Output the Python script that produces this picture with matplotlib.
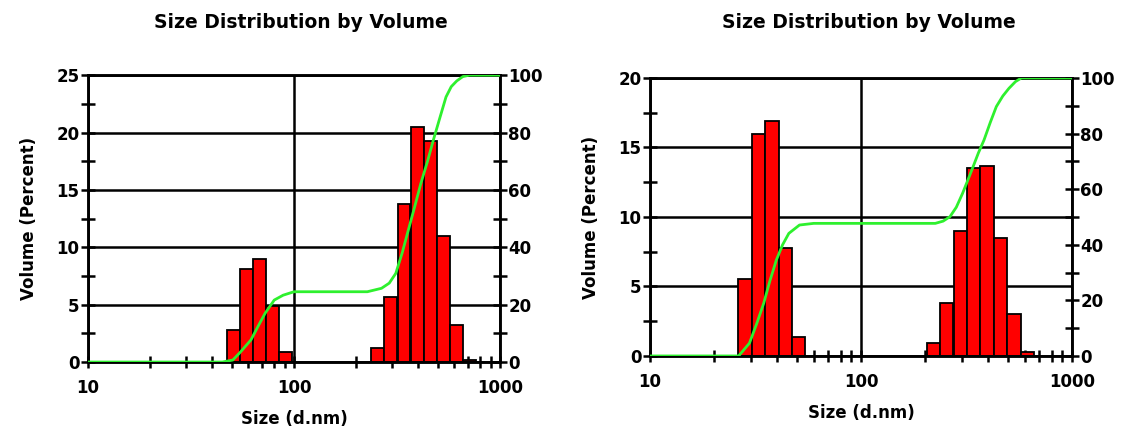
import matplotlib
matplotlib.use("Agg")
import matplotlib.pyplot as plt
from matplotlib.ticker import MultipleLocator, LogLocator, NullFormatter, FixedLocator, FuncFormatter

# Zetasizer size classes (d.nm) and volume % per class
LEFT_SIZES = [50.75, 58.77, 68.06, 78.82, 91.28,
              255.0, 295.3, 342.0, 396.1, 458.7, 531.2, 615.1, 712.4]
LEFT_VOLUME = [2.8, 8.1, 9.0, 4.9, 0.9,
               1.2, 5.7, 13.8, 20.5, 19.3, 11.0, 3.2, 0.15]

RIGHT_SIZES = [28.21, 32.67, 37.84, 43.82, 50.75,
               220.2, 255.0, 295.3, 342.0, 396.1, 458.7, 531.2, 615.1]
RIGHT_VOLUME = [5.55, 16.0, 16.9, 7.8, 1.35,
                0.9, 3.8, 9.0, 13.5, 13.7, 8.5, 3.0, 0.3]

# cumulative (undersize %) curve
LEFT_CUM_X = [10, 44.9, 50.5, 55, 61.8, 67, 72.4, 80.2, 88.6, 100,
              227, 266, 290, 312, 335, 359, 385, 413, 445, 475, 510, 547, 580, 617, 660, 710, 1000]
LEFT_CUM_Y = [0, 0, 0.7, 3.5, 7.7, 12.5, 17, 21.6, 23.3, 24.5,
              24.5, 25.7, 27.5, 30.9, 38, 46, 54, 62.3, 70, 77.4, 85, 92.4, 96, 98, 99.5, 100, 100]

RIGHT_CUM_X = [10, 26.3, 29.6, 32, 34.6, 37, 39.7, 42.5, 45.5, 51.1, 59.7,
               225, 245, 264, 283, 303, 320, 340, 360, 383, 410, 438, 470, 503, 540, 576, 1000]
RIGHT_CUM_Y = [0, 0, 4.6, 11.5, 19, 27, 34.5, 40, 44.1, 47.1, 47.7,
               47.7, 48.5, 50.1, 53.5, 58.5, 63, 68.1, 73, 77.7, 84, 89.7, 93.5, 96.3, 98.7, 100, 100]

TITLE = "Size Distribution by Volume"
BAR_HALF = 10 ** 0.0314   # half a size class in log space
GREEN = "#2ef02e"
LW = 1.8
FS = 12

plt.rcParams["font.family"] = ["DejaVu Sans"]
plt.rcParams["font.weight"] = "bold"
plt.rcParams["axes.labelweight"] = "bold"


def panel(rect, sizes, vols, cx, cy, ymax, title_xy):
    ax = fig.add_axes(rect)
    lefts = [s / BAR_HALF for s in sizes]
    widths = [s * BAR_HALF - s / BAR_HALF for s in sizes]
    ax.bar(lefts, vols, width=widths, align="edge", color="#ff0000",
           edgecolor="black", linewidth=1.3, zorder=2)
    ax.set_xscale("log")
    ax.set_xlim(10, 1000)
    ax.set_ylim(0, ymax)
    ax.xaxis.set_major_locator(FixedLocator([10, 100, 1000]))
    ax.xaxis.set_major_formatter(FuncFormatter(lambda v, p: "%d" % v))
    ax.xaxis.set_minor_locator(LogLocator(base=10, subs=range(2, 10)))
    ax.xaxis.set_minor_formatter(NullFormatter())
    ax.yaxis.set_major_locator(MultipleLocator(5))
    ax.yaxis.set_minor_locator(MultipleLocator(2.5))
    ax.grid(True, which="major", color="black", linewidth=LW, zorder=1)
    ax.set_axisbelow(True)
    for sp in ax.spines.values():
        sp.set_linewidth(LW)
    ax.tick_params(axis="both", which="both", direction="inout", width=LW,
                   labelsize=FS)
    ax.tick_params(axis="y", which="both", length=10, pad=1)
    ax.tick_params(axis="x", which="both", length=9, pad=8)
    ax.set_xlabel("Size (d.nm)", fontsize=FS, labelpad=9)
    ax.set_ylabel("Volume (Percent)", fontsize=FS, labelpad=13)
    fig.text(title_xy[0], title_xy[1], TITLE, fontsize=13.5, ha="center", va="center")

    ax2 = ax.twinx()
    ax2.plot(cx, cy, color=GREEN, linewidth=2.0, zorder=3)
    ax2.set_ylim(0, 100)
    ax2.yaxis.set_major_locator(MultipleLocator(20))
    ax2.yaxis.set_minor_locator(MultipleLocator(10))
    ax2.tick_params(axis="y", which="both", direction="inout", width=LW,
                    length=10, pad=1, labelsize=FS)
    for sp in ax2.spines.values():
        sp.set_linewidth(LW)
    return ax, ax2


fig = plt.figure(figsize=(11.34, 4.32), dpi=100)
panel([0.0776, 0.162, 0.3633, 0.664], LEFT_SIZES, LEFT_VOLUME,
      LEFT_CUM_X, LEFT_CUM_Y, 25, (0.265, 0.949))
panel([0.5732, 0.176, 0.3721, 0.6435], RIGHT_SIZES, RIGHT_VOLUME,
      RIGHT_CUM_X, RIGHT_CUM_Y, 20, (0.766, 0.949))

fig.savefig("out.png", dpi=100)
